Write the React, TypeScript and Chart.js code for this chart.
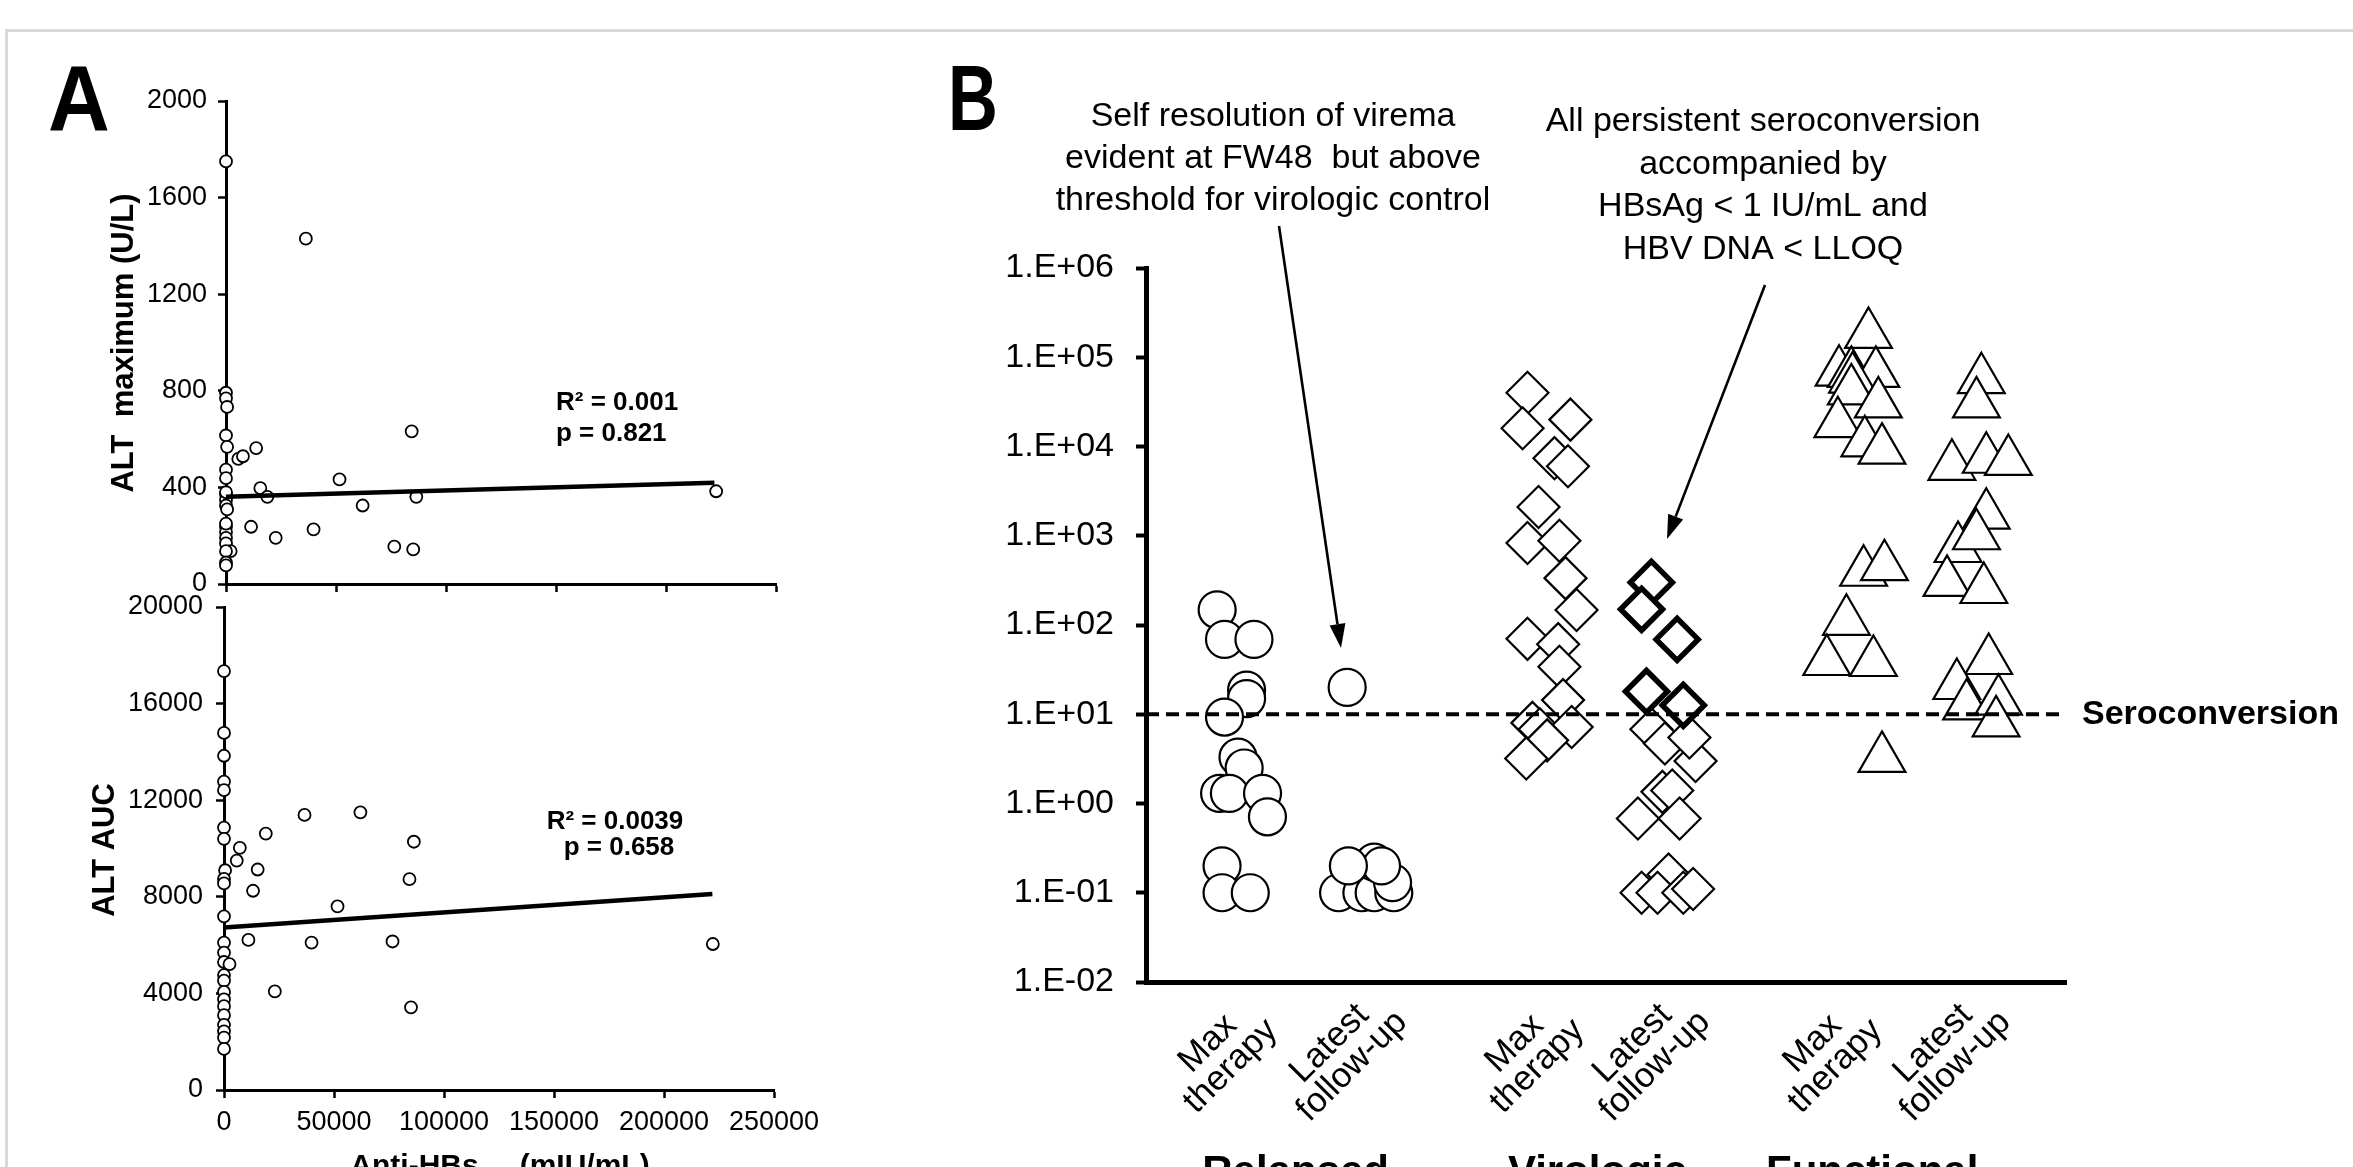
import React, { useEffect, useRef } from 'react';
import { Chart, registerables } from 'chart.js';
Chart.register(...registerables);

const W = 2353;
const H = 1167;
const SANS = "'Liberation Sans', Arial, Helvetica, sans-serif";
Chart.defaults.font.family = SANS;

// ---------------- Panel A ----------------
const A_X_TICKS = ['0', '50000', '100000', '150000', '200000', '250000'];
const ALT_MAX_TICKS = ['0', '400', '800', '1200', '1600', '2000'];
const ALT_AUC_TICKS = ['0', '4000', '8000', '12000', '16000', '20000'];

// [anti-HBs (mIU/mL), ALT maximum (U/L)]
const ALT_MAX: [number, number][] = [
  [0, 1750], [36300, 1430], [0, 792], [0, 769], [500, 733], [0, 615], [500, 568],
  [13700, 563], [5600, 518], [7700, 529], [84400, 632], [51600, 433], [0, 474],
  [0, 438], [15600, 397], [18800, 361], [0, 372], [0, 348], [0, 325], [500, 309],
  [62100, 325], [86500, 361], [222800, 384], [11400, 237], [39800, 226], [22600, 191],
  [76500, 155], [85100, 143], [0, 237], [0, 215], [0, 191], [0, 168], [2100, 136],
  [0, 136], [0, 89], [0, 77], [0, 380], [0, 250],
];
// [anti-HBs (mIU/mL), ALT AUC]
const ALT_AUC: [number, number][] = [
  [0, 17345], [0, 14787], [0, 13840], [0, 12770], [0, 12415], [0, 10865], [0, 10400],
  [500, 9100], [0, 8740], [0, 8555], [0, 7190], [36600, 11390], [62000, 11500],
  [19000, 10620], [86300, 10280], [7200, 10030], [5800, 9500], [15300, 9130],
  [84300, 8730], [13200, 8250], [51600, 7600], [11100, 6215], [39800, 6105],
  [76600, 6150], [222200, 6045], [0, 6105], [0, 5690], [0, 5300], [2500, 5210],
  [0, 4760], [0, 4530], [0, 4060], [0, 3750], [0, 3470], [23100, 4080], [85000, 3425],
  [0, 3100], [0, 2700], [0, 2430], [0, 2170], [0, 1700],
];
const REG_X = [0, 222000];
const REG_MAX_Y = [361, 419];
const REG_AUC_Y = [6730, 8120];

// ---------------- Panel B ----------------
const B_Y_VALUES = [0.01, 0.1, 1, 10, 100, 1000, 1e4, 1e5, 1e6];
const B_Y_TICKS = ['1.E-02', '1.E-01', '1.E+00', '1.E+01', '1.E+02', '1.E+03', '1.E+04', '1.E+05', '1.E+06'];
const SERO = 10;
const CAT_X = [0.77, 1.76, 3.27, 4.23, 5.7, 6.68];
const CAT_LABELS = [
  ['Max', 'therapy'], ['Latest', 'follow-up'],
  ['Max', 'therapy'], ['Latest', 'follow-up'],
  ['Max', 'therapy'], ['Latest', 'follow-up'],
];
const GROUP_X = [1.22, 3.68, 5.92];
const GROUP_LABELS = ['Relapsed', 'Virologic', 'Functional'];

// [x position (jittered category), value]
const CIRCLE_MAX: [number, number][] = [
  [0.58, 148], [0.64, 69], [0.88, 69], [0.82, 18.6], [0.82, 15], [0.64, 9.3], [0.75, 3.3],
  [0.8, 2.5], [0.6, 1.3], [0.68, 1.3], [0.95, 1.3], [0.99, 0.71], [0.62, 0.2], [0.62, 0.1], [0.85, 0.1],
];
const CIRCLE_LATEST: [number, number][] = [
  [1.64, 20], [1.57, 0.1], [1.76, 0.1], [1.86, 0.1], [2.02, 0.1], [2.01, 0.13],
  [1.86, 0.22], [1.92, 0.2], [1.65, 0.2],
];
const DIAMOND_MAX: [number, number][] = [
  [3.11, 40000], [3.07, 16000], [3.46, 20000], [3.33, 7400], [3.44, 6000], [3.2, 2100],
  [3.11, 830], [3.37, 880], [3.42, 335], [3.51, 147], [3.11, 70], [3.36, 61], [3.37, 34],
  [3.4, 14.4], [3.15, 8], [3.21, 6.8], [3.47, 7.2], [3.27, 5.1], [3.1, 3.2],
];
const DIAMOND_LATEST: [number, number][] = [
  [4.12, 6.8], [4.23, 4.7], [4.48, 3.0], [4.43, 5.5], [4.21, 1.35], [4.29, 1.4],
  [4.01, 0.68], [4.35, 0.68], [4.26, 0.16], [4.04, 0.1], [4.17, 0.1], [4.38, 0.1], [4.46, 0.11],
];
const DIAMOND_SERO: [number, number][] = [
  [4.12, 300], [4.04, 150], [4.33, 69], [4.08, 18], [4.38, 12.6],
];
const TRIANGLE_MAX: [number, number][] = [
  [5.89, 180000], [5.65, 68000], [5.75, 66000], [5.95, 66000], [5.76, 57000], [5.75, 42000],
  [5.97, 30000], [5.64, 18000], [5.86, 11000], [6.0, 9100], [5.85, 390], [6.02, 450],
  [5.71, 110], [5.55, 39], [5.93, 38], [6.0, 3.2],
];
const TRIANGLE_LATEST: [number, number][] = [
  [6.81, 56000], [6.77, 30000], [6.57, 6000], [6.85, 7200], [7.03, 6800], [6.85, 1700],
  [6.62, 720], [6.77, 1000], [6.53, 300], [6.83, 250], [6.87, 40], [6.61, 21],
  [6.69, 12.4], [6.95, 14], [6.93, 8],
];

const NOTE_1 = ['Self resolution of virema', 'evident at FW48  but above', 'threshold for virologic control'];
const NOTE_2 = ['All persistent seroconversion', 'accompanied by', 'HBsAg < 1 IU/mL and', 'HBV DNA < LLOQ'];

const pts = (a: [number, number][]) => a.map(([x, y]) => ({ x, y }));
const line = (xs: number[], ys: number[]) => xs.map((x, i) => ({ x, y: ys[i] }));

function letter(ctx: CanvasRenderingContext2D, t: string, x: number, y: number, sx: number) {
  ctx.save();
  ctx.font = `bold 92px ${SANS}`;
  ctx.textAlign = 'left';
  ctx.textBaseline = 'alphabetic';
  ctx.translate(x, y);
  ctx.scale(sx, 1);
  ctx.fillText(t, 0, 0);
  ctx.restore();
}

function arrow(ctx: CanvasRenderingContext2D, x1: number, y1: number, x2: number, y2: number) {
  const ang = Math.atan2(y2 - y1, x2 - x1);
  const hl = 24, hw = 8;
  const bx = x2 - hl * Math.cos(ang), by = y2 - hl * Math.sin(ang);
  ctx.beginPath();
  ctx.moveTo(x1, y1);
  ctx.lineTo(bx, by);
  ctx.lineWidth = 2.6;
  ctx.stroke();
  ctx.beginPath();
  ctx.moveTo(x2, y2);
  ctx.lineTo(bx + hw * Math.sin(ang), by - hw * Math.cos(ang));
  ctx.lineTo(bx - hw * Math.sin(ang), by + hw * Math.cos(ang));
  ctx.closePath();
  ctx.fill();
}

const aGrid = { display: true, drawOnChartArea: false, drawTicks: true, tickLength: 8, tickWidth: 2.5, tickColor: '#000' };
const aBorder = { display: true, color: '#000', width: 3 };

function scatterSet(data: [number, number][], style: string, radius: number, bw: number, order: number) {
  return {
    data: pts(data),
    pointStyle: style,
    pointRadius: radius,
    pointHoverRadius: radius,
    pointBorderWidth: bw,
    pointBorderColor: '#000',
    pointBackgroundColor: '#fff',
    showLine: false,
    clip: false,
    order,
  } as any;
}

function configATop(): any {
  const left = 226, right = 776, top = 101, bottom = 584;
  const yW = 120, xH = 20;
  return {
    type: 'scatter',
    data: {
      datasets: [
        { type: 'line', data: line(REG_X, REG_MAX_Y), borderColor: '#000', borderWidth: 4.5, pointRadius: 0, fill: false, order: 0, clip: false },
        scatterSet(ALT_MAX, 'circle', 6, 1.8, 1),
      ],
    },
    options: {
      animation: false, responsive: false, devicePixelRatio: 1,
      layout: { padding: { left: left - yW, right: W - right, top, bottom: H - bottom - xH } },
      plugins: { legend: { display: false }, tooltip: { enabled: false } },
      scales: {
        x: {
          type: 'linear', min: 0, max: 250000,
          ticks: { display: false, stepSize: 50000 },
          grid: aGrid, border: aBorder,
          afterFit: (s: any) => { s.height = xH; },
        },
        y: {
          type: 'linear', min: 0, max: 2000,
          ticks: { stepSize: 400, color: '#000', font: { size: 27, family: SANS }, padding: 11, callback: (_v: any, i: number) => ALT_MAX_TICKS[i] },
          grid: aGrid, border: aBorder,
          afterFit: (s: any) => { s.width = yW; },
        },
      },
    },
    plugins: [{
      id: 'aTopText',
      afterDraw(chart: any) {
        const ctx = chart.ctx as CanvasRenderingContext2D;
        ctx.save();
        ctx.fillStyle = '#000';
        letter(ctx, 'A', 48, 130, 0.93);
        ctx.save();
        ctx.translate(124, 343);
        ctx.rotate(-Math.PI / 2);
        ctx.font = `bold 31px ${SANS}`;
        ctx.textAlign = 'center';
        ctx.textBaseline = 'middle';
        ctx.fillText('ALT  maximum (U/L)', 0, 0);
        ctx.restore();
        ctx.font = `bold 26px ${SANS}`;
        ctx.textAlign = 'left';
        ctx.textBaseline = 'middle';
        ctx.fillText('R² = 0.001', 556, 403);
        ctx.fillText('p = 0.821', 556, 434);
        ctx.restore();
      },
    }],
  };
}

function configABottom(): any {
  const left = 224, right = 774, top = 607, bottom = 1090;
  const yW = 120, xH = 60;
  return {
    type: 'scatter',
    data: {
      datasets: [
        { type: 'line', data: line(REG_X, REG_AUC_Y), borderColor: '#000', borderWidth: 4.5, pointRadius: 0, fill: false, order: 0, clip: false },
        scatterSet(ALT_AUC, 'circle', 6, 1.8, 1),
      ],
    },
    options: {
      animation: false, responsive: false, devicePixelRatio: 1,
      layout: { padding: { left: left - yW, right: W - right, top, bottom: H - bottom - xH } },
      plugins: { legend: { display: false }, tooltip: { enabled: false } },
      scales: {
        x: {
          type: 'linear', min: 0, max: 250000,
          ticks: { stepSize: 50000, maxRotation: 0, color: '#000', font: { size: 27, family: SANS }, padding: 8, callback: (_v: any, i: number) => A_X_TICKS[i] },
          grid: aGrid, border: aBorder,
          afterFit: (s: any) => { s.height = xH; },
        },
        y: {
          type: 'linear', min: 0, max: 20000,
          ticks: { stepSize: 4000, color: '#000', font: { size: 27, family: SANS }, padding: 13, callback: (_v: any, i: number) => ALT_AUC_TICKS[i] },
          grid: aGrid, border: aBorder,
          afterFit: (s: any) => { s.width = yW; },
        },
      },
    },
    plugins: [{
      id: 'aBottomText',
      afterDraw(chart: any) {
        const ctx = chart.ctx as CanvasRenderingContext2D;
        ctx.save();
        ctx.fillStyle = '#000';
        ctx.save();
        ctx.translate(105, 850);
        ctx.rotate(-Math.PI / 2);
        ctx.font = `bold 31px ${SANS}`;
        ctx.textAlign = 'center';
        ctx.textBaseline = 'middle';
        ctx.fillText('ALT AUC', 0, 0);
        ctx.restore();
        ctx.font = `bold 26px ${SANS}`;
        ctx.textAlign = 'center';
        ctx.textBaseline = 'middle';
        ctx.fillText('R² = 0.0039', 615, 822);
        ctx.fillText('p = 0.658', 619, 848);
        // x title (cut at page bottom)
        const big = `bold 30px ${SANS}`, small = `bold 18px ${SANS}`;
        ctx.textAlign = 'left';
        ctx.textBaseline = 'alphabetic';
        ctx.font = big;
        const w1 = ctx.measureText('Anti-HBs').width;
        const w3 = ctx.measureText('(mIU/mL)').width;
        ctx.font = small;
        const w2 = ctx.measureText('max ').width;
        let x = 500 - (w1 + w2 + w3) / 2;
        ctx.font = big;
        ctx.fillText('Anti-HBs', x, 1175);
        x += w1;
        ctx.font = small;
        ctx.fillStyle = '#999';
        ctx.fillText('max', x, 1184);
        ctx.fillStyle = '#000';
        x += w2;
        ctx.font = big;
        ctx.fillText('(mIU/mL)', x, 1175);
        ctx.restore();
      },
    }],
  };
}

function configB(): any {
  const left = 1146, right = 2066, top = 268, bottom = 982;
  const yW = 220, xH = 10;
  return {
    type: 'scatter',
    data: {
      datasets: [
        { type: 'line', data: [{ x: 0, y: SERO }, { x: 7.5, y: SERO }], borderColor: '#000', borderWidth: 4, borderDash: [13, 7], pointRadius: 0, fill: false, order: 0, clip: false },
        scatterSet(DIAMOND_SERO, 'rectRot', 21, 5.5, 1),
        scatterSet(CIRCLE_MAX, 'circle', 18.5, 2.2, 2),
        scatterSet(CIRCLE_LATEST, 'circle', 18.5, 2.2, 2),
        scatterSet(DIAMOND_MAX, 'rectRot', 21, 2.2, 2),
        scatterSet(DIAMOND_LATEST, 'rectRot', 21, 2.2, 2),
        scatterSet(TRIANGLE_MAX, 'triangle', 27, 2.2, 2),
        scatterSet(TRIANGLE_LATEST, 'triangle', 27, 2.2, 2),
      ],
    },
    options: {
      animation: false, responsive: false, devicePixelRatio: 1,
      layout: { padding: { left: left - yW, right: W - right, top, bottom: H - bottom - xH } },
      plugins: { legend: { display: false }, tooltip: { enabled: false } },
      scales: {
        x: {
          type: 'linear', min: 0, max: 7.5,
          ticks: { display: false },
          grid: { display: false },
          border: { display: true, color: '#000', width: 5 },
          afterFit: (s: any) => { s.height = xH; },
        },
        y: {
          type: 'logarithmic', min: 0.01, max: 1e6,
          afterBuildTicks: (s: any) => { s.ticks = B_Y_VALUES.map((v) => ({ value: v })); },
          ticks: { color: '#000', font: { size: 34, family: SANS }, padding: 22, callback: (_v: any, i: number) => B_Y_TICKS[i] },
          grid: { display: true, drawOnChartArea: false, drawTicks: true, tickLength: 10, tickWidth: 4, tickColor: '#000' },
          border: { display: true, color: '#000', width: 5 },
          afterFit: (s: any) => { s.width = yW; },
        },
      },
    },
    plugins: [{
      id: 'bText',
      afterDraw(chart: any) {
        const ctx = chart.ctx as CanvasRenderingContext2D;
        const xs = chart.scales.x, ys = chart.scales.y;
        ctx.save();
        ctx.fillStyle = '#000';
        ctx.strokeStyle = '#000';
        letter(ctx, 'B', 948, 130, 0.75);
        ctx.font = `34px ${SANS}`;
        ctx.textAlign = 'center';
        ctx.textBaseline = 'alphabetic';
        NOTE_1.forEach((s, i) => ctx.fillText(s, 1273, 126 + i * 42));
        NOTE_2.forEach((s, i) => ctx.fillText(s, 1763, 131 + i * 42.5));
        arrow(ctx, 1279, 226, 1341, 648);
        arrow(ctx, 1765, 285, 1667, 539);
        ctx.font = `bold 34px ${SANS}`;
        ctx.textAlign = 'left';
        ctx.textBaseline = 'middle';
        ctx.fillText('Seroconversion', 2082, ys.getPixelForValue(SERO));
        ctx.font = `35px ${SANS}`;
        ctx.textAlign = 'center';
        ctx.textBaseline = 'middle';
        const axisY = chart.chartArea.bottom;
        CAT_LABELS.forEach((lines, i) => {
          const px = xs.getPixelForValue(CAT_X[i]);
          ctx.save();
          ctx.translate(px - 21, axisY + 73);
          ctx.rotate(-Math.PI / 4);
          lines.forEach((l, j) => ctx.fillText(l, 0, (j - 0.5) * 32));
          ctx.restore();
        });
        ctx.font = `bold 42px ${SANS}`;
        ctx.textBaseline = 'alphabetic';
        GROUP_LABELS.forEach((g, i) => ctx.fillText(g, xs.getPixelForValue(GROUP_X[i]), 1185));
        ctx.restore();
      },
    }],
  };
}

function ChartCanvas({ make }: { make: () => any }) {
  const ref = useRef<HTMLCanvasElement | null>(null);
  useEffect(() => {
    const c = new Chart(ref.current as HTMLCanvasElement, make());
    return () => c.destroy();
  }, []);
  return (
    <canvas
      ref={ref}
      width={W}
      height={H}
      style={{ position: 'absolute', left: 0, top: 0, width: W, height: H }}
    />
  );
}

export default function App() {
  return (
    <div style={{ position: 'absolute', left: 0, top: 0, width: W, height: H, overflow: 'hidden', background: '#fff' }}>
      <div style={{ position: 'absolute', left: 5, top: 29, width: W + 100, height: H + 100, borderTop: '3px solid #d9d9d9', borderLeft: '3px solid #d9d9d9' }} />
      <ChartCanvas make={configATop} />
      <ChartCanvas make={configABottom} />
      <ChartCanvas make={configB} />
    </div>
  );
}
